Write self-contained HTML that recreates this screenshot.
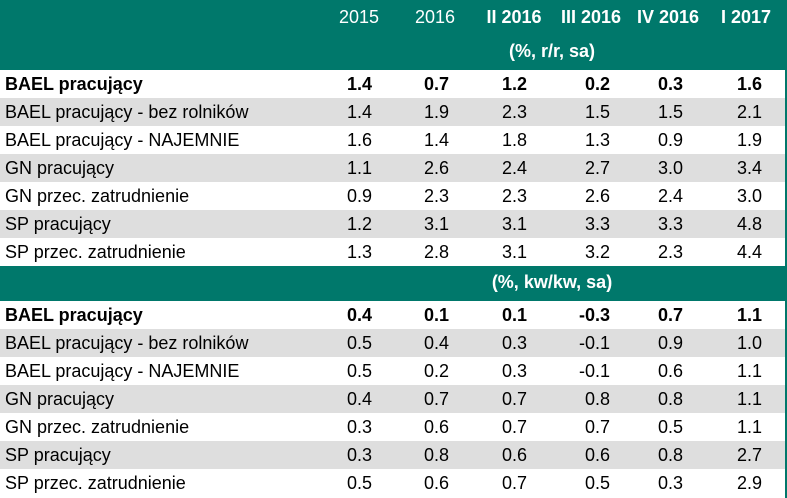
<!DOCTYPE html>
<html><head><meta charset="utf-8"><style>
body{margin:0;width:787px;height:498px;overflow:hidden;background:#fff;font-family:"Liberation Sans",Arial,sans-serif;}
#t{position:relative;width:787px;height:498px;}
.band{position:absolute;left:0;width:787px;background:#00786b;}
.row{position:absolute;left:0;width:785px;height:28px;}
.row.g{background:#dedede;}
.lab{position:absolute;left:5px;top:4px;font-size:18px;color:#000;white-space:nowrap;}
.v{position:absolute;top:4px;font-size:18px;color:#000;text-align:right;width:60px;}
.b{font-weight:bold;}
.h{position:absolute;top:7px;font-size:18px;color:#fff;text-align:center;width:90px;white-space:nowrap;}
.sub{position:absolute;font-size:18px;color:#fff;font-weight:bold;text-align:center;width:200px;}
#rb{position:absolute;right:0;top:0;width:2px;height:498px;background:#00786b;}
</style></head><body>
<div id="t">
<div class="band" style="top:0;height:70px">
<div class="h" style="left:314px">2015</div>
<div class="h" style="left:390px">2016</div>
<div class="h b" style="left:469px">II 2016</div>
<div class="h b" style="left:546px">III 2016</div>
<div class="h b" style="left:623px">IV 2016</div>
<div class="h b" style="left:701px">I 2017</div>
<div class="sub" style="left:452px;top:41px">(%, r/r, sa)</div>
</div>
<div class="band" style="top:266px;height:35px">
<div class="sub" style="left:452px;top:6px">(%, kw/kw, sa)</div>
</div>
<div id="rows"></div>
<div id="rb"></div>
</div>
<script>
const labels=["BAEL pracujący","BAEL pracujący - bez rolników","BAEL pracujący - NAJEMNIE","GN pracujący","GN przec. zatrudnienie","SP pracujący","SP przec. zatrudnienie"];
const yoy=[["1.4","0.7","1.2","0.2","0.3","1.6"],["1.4","1.9","2.3","1.5","1.5","2.1"],["1.6","1.4","1.8","1.3","0.9","1.9"],["1.1","2.6","2.4","2.7","3.0","3.4"],["0.9","2.3","2.3","2.6","2.4","3.0"],["1.2","3.1","3.1","3.3","3.3","4.8"],["1.3","2.8","3.1","3.2","2.3","4.4"]];
const qoq=[["0.4","0.1","0.1","-0.3","0.7","1.1"],["0.5","0.4","0.3","-0.1","0.9","1.0"],["0.5","0.2","0.3","-0.1","0.6","1.1"],["0.4","0.7","0.7","0.8","0.8","1.1"],["0.3","0.6","0.7","0.7","0.5","1.1"],["0.3","0.8","0.6","0.6","0.8","2.7"],["0.5","0.6","0.7","0.5","0.3","2.9"]];
const rightEdges=[372,449,527,610,683,762];
const c=document.getElementById('rows');
function build(data,top,sec){
  data.forEach((vals,i)=>{
    const r=document.createElement('div');
    r.className='row'+(i%2===1?' g':'');
    r.style.top=(top+i*28)+'px';
    
    
    const l=document.createElement('div');
    l.className='lab'+(i===0?' b':'');
    l.textContent=labels[i];
    
    
    r.appendChild(l);
    vals.forEach((v,j)=>{
      const d=document.createElement('div');
      d.className='v'+(i===0?' b':'');
      d.style.left=(rightEdges[j]-60)+'px';
      d.textContent=v;
      
      
      r.appendChild(d);
    });
    c.appendChild(r);
  });
}
build(yoy,70,'yoy');
build(qoq,301,'qoq');
</script>
</body></html>
